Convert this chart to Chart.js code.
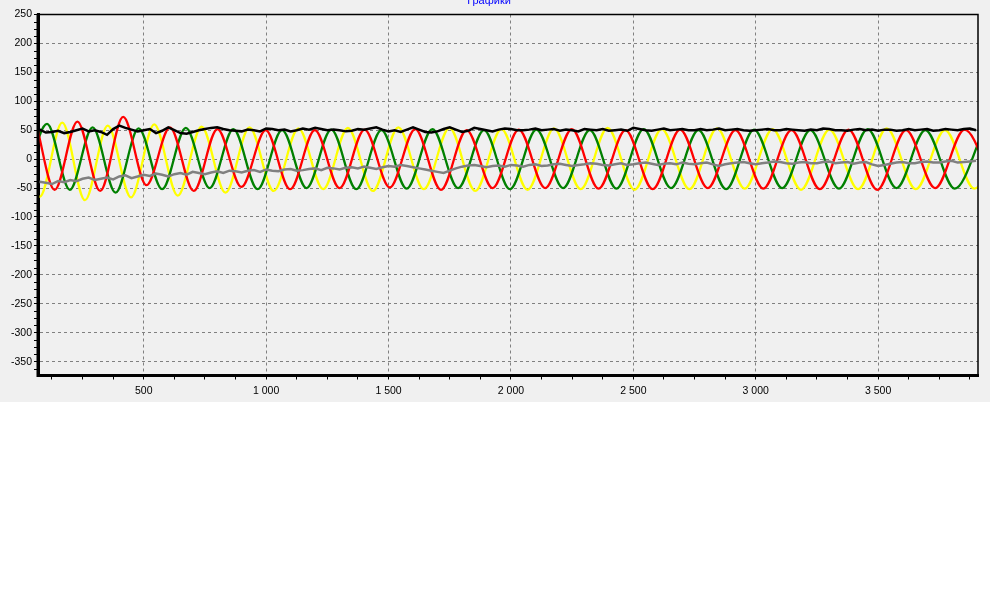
<!DOCTYPE html>
<html><head><meta charset="utf-8">
<script src="https://cdn.jsdelivr.net/npm/chart.js@4"></script>
<style>
html,body{margin:0;padding:0;background:#fff;}
#wrap{position:absolute;left:0;top:0;width:990px;height:402px;background:#f0f0f0;overflow:hidden;}
canvas{display:block;}
</style></head><body>
<div id="wrap"><canvas id="c" width="990" height="402"></canvas></div>
<script>
const titleText = 'Графики';
const xMajorTicks = [500,1000,1500,2000,2500,3000,3500];
const xTickLabels = ['500','1 000','1 500','2 000','2 500','3 000','3 500'];
const xMinorTicks = [125,250,375,625,750,875,1125,1250,1375,1625,1750,1875,2125,2250,2375,2625,2750,2875,3125,3250,3375,3625,3750,3875];
const yTicks = [250,200,150,100,50,0,-50,-100,-150,-200,-250,-300,-350];
const yTickLabels = ['250','200','150','100','50','0','-50','-100','-150','-200','-250','-300','-350'];

// Phase currents: extremum points (x, value)
const redX = [60,136,229,322,416,511,607,704,801,899,998,1098,1199,1300,1402,1505,1609,1714,1819,1925,2032,2140,2249,2358,2468,2579,2691,2804,2917,3031,3146,3262,3379,3496,3614,3733,3853,3974];
const redY = [62,-53,65,-55,73,-45,55,-55,52,-48,50,-52,50,-50,51,-49,52,-53,50,-50,51,-50,52,-51,50,-52,51,-50,50,-51,50,-52,51,-53,50,-50,51,-50];
const greenX = [13,105,198,291,385,479,575,672,769,866,965,1065,1165,1266,1368,1471,1574,1679,1784,1890,1996,2104,2213,2322,2431,2542,2654,2766,2879,2993,3108,3223,3340,3457,3575,3693,3813,3933];
const greenY = [-45,61,-53,55,-58,53,-52,54,-50,52,-52,50,-50,51,-52,50,-51,52,-50,50,-52,51,-50,50,-51,52,-50,50,-52,51,-50,50,-51,52,-50,50,-51,52];
const yellowX = [-17,75,167,260,353,448,543,639,736,834,932,1031,1132,1233,1334,1436,1540,1644,1749,1854,1961,2068,2176,2285,2395,2505,2616,2729,2842,2955,3069,3185,3301,3418,3535,3654,3773,3893,4014];
const yellowY = [55,-65,63,-71,58,-66,60,-63,56,-58,55,-55,53,-52,54,-55,55,-52,54,-55,52,-53,53,-52,54,-53,52,-52,53,-51,52,-53,51,-52,53,-52,50,-51,52];

// Sampled traces (black magnitude, gray residual)
const sampleX = [50,75,100,125,150,175,200,225,250,275,300,325,350,375,400,425,450,475,500,525,550,575,600,625,650,675,700,725,750,775,800,825,850,875,900,925,950,975,1000,1025,1050,1075,1100,1125,1150,1175,1200,1225,1250,1275,1300,1325,1350,1375,1400,1425,1450,1475,1500,1525,1550,1575,1600,1625,1650,1675,1700,1725,1750,1775,1800,1825,1850,1875,1900,1925,1950,1975,2000,2025,2050,2075,2100,2125,2150,2175,2200,2225,2250,2275,2300,2325,2350,2375,2400,2425,2450,2475,2500,2525,2550,2575,2600,2625,2650,2675,2700,2725,2750,2775,2800,2825,2850,2875,2900,2925,2950,2975,3000,3025,3050,3075,3100,3125,3150,3175,3200,3225,3250,3275,3300,3325,3350,3375,3400,3425,3450,3475,3500,3525,3550,3575,3600,3625,3650,3675,3700,3725,3750,3775,3800,3825,3850,3875,3900];
const blackY = [48,51,46,47,49,45,47,50,53,48,50,47,42,52,58,54,51,48,50,52,
  45,49,55,50,45,44,47,50,52,54,55,52,50,49,48,51,50,48,53,52,
  50,51,48,50,53,51,54,52,50,51,50,48,49,52,51,53,55,51,48,50,
  47,51,55,51,47,46,48,52,55,51,47,49,54,52,50,48,51,53,52,50,
  50,51,53,50,51,52,49,51,50,48,52,51,50,52,49,50,51,49,54,52,
  50,49,51,53,50,51,52,50,50,52,50,51,53,50,51,52,50,49,50,51,
  52,50,50,52,51,50,49,51,50,53,52,50,50,49,51,52,50,51,49,51,
  51,49,50,52,50,51,52,49,50,52,51,50,52,53,50];
const grayY = [-42,-39,-41,-43,-38,-40,-36,-38,-34,-32,-36,-34,-32,-35,-30,-28,-33,-30,-27,-29,
  -25,-27,-30,-26,-24,-27,-22,-24,-26,-23,-21,-24,-20,-21,-23,-20,-19,-22,-18,-20,
  -21,-18,-17,-20,-19,-17,-16,-19,-15,-16,-18,-15,-14,-16,-13,-15,-17,-14,-12,-13,
  -10,-12,-14,-16,-18,-20,-22,-24,-20,-16,-13,-11,-10,-12,-14,-12,-11,-13,-10,-11,
  -13,-10,-9,-12,-11,-9,-8,-10,-12,-10,-9,-7,-8,-10,-11,-9,-7,-10,-9,-7,
  -6,-8,-10,-8,-7,-9,-6,-8,-9,-7,-6,-9,-12,-9,-7,-6,-5,-7,-9,-7,
  -6,-4,-5,-7,-8,-6,-5,-7,-7,-5,-4,-7,-6,-5,-8,-6,-5,-9,-12,-10,
  -8,-6,-5,-7,-7,-5,-4,-6,-6,-4,-3,-6,-5,-4,-3];

const X_MIN = 68, X_MAX = 3908, Y_MIN = -374, Y_MAX = 250;
const FONT = {family:'"Liberation Sans", Arial, sans-serif', size:10.5, weight:'normal'};

function series(label, xs, ys, color, width, order, smooth){
  return {label, data: xs.map((x,i)=>({x, y: ys[i]})), borderColor: color, backgroundColor: color,
    borderWidth: width, pointRadius: 0, pointHoverRadius: 0, fill: false, order,
    tension: 0, cubicInterpolationMode: smooth ? 'monotone' : 'default'};
}

const framePlugin = {
  id:'frame',
  afterDraw(chart){
    const {ctx, chartArea:a} = chart;
    const ys = chart.scales.y;
    ctx.save();
    ctx.strokeStyle = '#000';
    ctx.lineWidth = 1;
    for (let v = -362.5; v < Y_MAX; v += 12.5){
      if (yTicks.includes(v)) continue;
      const py = Math.round(ys.getPixelForValue(v)) + 0.5;
      ctx.beginPath(); ctx.moveTo(a.left - 4, py); ctx.lineTo(a.left - 1, py); ctx.stroke();
    }
    ctx.lineWidth = 1.5;
    ctx.beginPath();
    ctx.moveTo(a.left, a.top); ctx.lineTo(a.right, a.top); ctx.lineTo(a.right, a.bottom);
    ctx.stroke();
    ctx.lineWidth = 3;
    ctx.beginPath();
    ctx.moveTo(a.left, a.top - 0.75); ctx.lineTo(a.left, a.bottom); ctx.lineTo(a.right + 0.75, a.bottom);
    ctx.stroke();
    ctx.restore();
  }
};

new Chart(document.getElementById('c'), {
  type: 'line',
  data: { datasets: [
    series('black', sampleX, blackY, '#000000', 2.5, 0, false),
    series('gray', sampleX, grayY, '#808080', 2.5, 1, false),
    series('red', redX, redY, '#ff0000', 2.3, 2, true),
    series('green', greenX, greenY, '#008000', 2.3, 3, true),
    series('yellow', yellowX, yellowY, '#ffff00', 2.3, 4, true)
  ]},
  options: {
    responsive: false, animation: false, devicePixelRatio: 1,
    events: [],
    layout: { padding: { left: 0, right: 12, top: 0, bottom: 0 } },
    plugins: {
      legend: { display: false },
      tooltip: { enabled: false },
      title: { display: true, text: titleText, color: '#0000ff',
        font: {family:'"Liberation Sans", Arial, sans-serif', size: 11, weight: 'normal'},
        padding: { top: -6, bottom: 7.3 } }
    },
    scales: {
      x: {
        type: 'linear', min: X_MIN, max: X_MAX,
        afterBuildTicks: s => { s.ticks = xMinorTicks.concat(xMajorTicks).sort((a,b)=>a-b).map(v=>({value:v})); },
        afterFit: s => { s.height = 26.5; },
        ticks: { autoSkip: false, maxRotation: 0, minRotation: 0, padding: 5, color: '#000', font: FONT,
          callback: v => { const i = xMajorTicks.indexOf(v); return i >= 0 ? xTickLabels[i] : ''; } },
        grid: { color: c => (c.tick && xMajorTicks.includes(c.tick.value)) ? '#808080' : 'rgba(0,0,0,0)',
          lineWidth: 1, tickColor: '#000', tickLength: 4, tickWidth: 1, drawTicks: true },
        border: { display: true, color: '#000', width: 3, dash: [3,3] }
      },
      y: {
        type: 'linear', min: Y_MIN, max: Y_MAX,
        afterBuildTicks: s => { s.ticks = yTicks.map(v=>({value:v})); },
        afterFit: s => { s.width = 38; },
        ticks: { padding: 2, color: '#000', font: FONT,
          callback: v => { const i = yTicks.indexOf(v); return i >= 0 ? yTickLabels[i] : ''; } },
        grid: { color: '#808080', lineWidth: 1, tickColor: '#000', tickLength: 4, tickWidth: 1 },
        border: { display: true, color: '#000', width: 3, dash: [3,3] }
      }
    }
  },
  plugins: [framePlugin]
});
</script>
</body></html>
